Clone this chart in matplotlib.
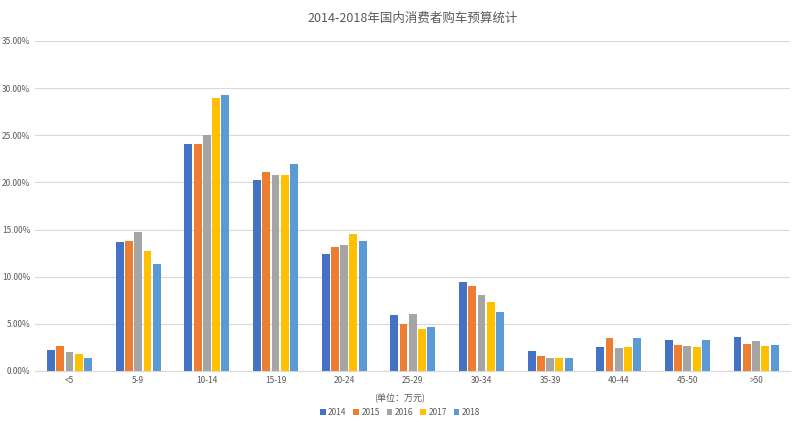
import numpy as np
import matplotlib
matplotlib.use("Agg")
import matplotlib.pyplot as plt

plt.rcParams["font.family"] = ["Noto Sans CJK SC", "DejaVu Sans"]

# data (percent)
categories = ["<5", "5-9", "10-14", "15-19", "20-24", "25-29", "30-34", "35-39", "40-44", "45-50", ">50"]
years = ["2014", "2015", "2016", "2017", "2018"]
v2014 = [2.2, 13.7, 24.1, 20.3, 12.4, 5.9, 9.4, 2.1, 2.5, 3.3, 3.6]
v2015 = [2.6, 13.8, 24.1, 21.1, 13.1, 5.0, 9.0, 1.6, 3.5, 2.8, 2.9]
v2016 = [2.0, 14.7, 25.0, 20.8, 13.4, 6.0, 8.1, 1.4, 2.4, 2.6, 3.2]
v2017 = [1.8, 12.7, 28.9, 20.8, 14.5, 4.5, 7.3, 1.4, 2.5, 2.5, 2.6]
v2018 = [1.4, 11.3, 29.3, 21.9, 13.8, 4.7, 6.2, 1.4, 3.5, 3.3, 2.8]
series = [v2014, v2015, v2016, v2017, v2018]
colors = ["#4472C4", "#ED7D31", "#A5A5A5", "#FFC000", "#5B9BD5"]

fig = plt.figure(figsize=(8, 4.22), dpi=100)
ax = fig.add_axes([0.044, 0.121, 0.944, 0.782])

x = np.arange(len(categories))
w = 0.135
for i, (vals, c) in enumerate(zip(series, colors)):
    ax.bar(x + (i - 2) * w, vals, width=w * 0.85, color=c, label=years[i], zorder=3)

ax.set_xlim(-0.5, len(categories) - 0.5)
ax.set_ylim(0, 35)
ax.set_yticks(np.arange(0, 36, 5))
ax.set_yticklabels([f"{t:.2f}%" for t in np.arange(0, 36, 5)])
ax.set_xticks(x)
ax.set_xticklabels(categories)
ax.tick_params(length=0, labelsize=6, colors="#595959")
ax.grid(axis="y", color="#D9D9D9", linewidth=0.8, zorder=0)
for s in ["top", "right", "left"]:
    ax.spines[s].set_visible(False)
ax.spines["bottom"].set_color("#D9D9D9")

ax.set_title("2014-2018年国内消费者购车预算统计", fontsize=9, color="#595959", pad=14)
fig.text(0.5, 0.05, "(单位：万元)", ha="center", fontsize=6.5, color="#595959")
fig.legend(loc="lower center", bbox_to_anchor=(0.5, -0.005), ncol=5, frameon=False,
           fontsize=6, handlelength=0.7, handleheight=0.7, columnspacing=0.8, handletextpad=0.3,
           labelcolor="#595959")

fig.savefig("out.png")
